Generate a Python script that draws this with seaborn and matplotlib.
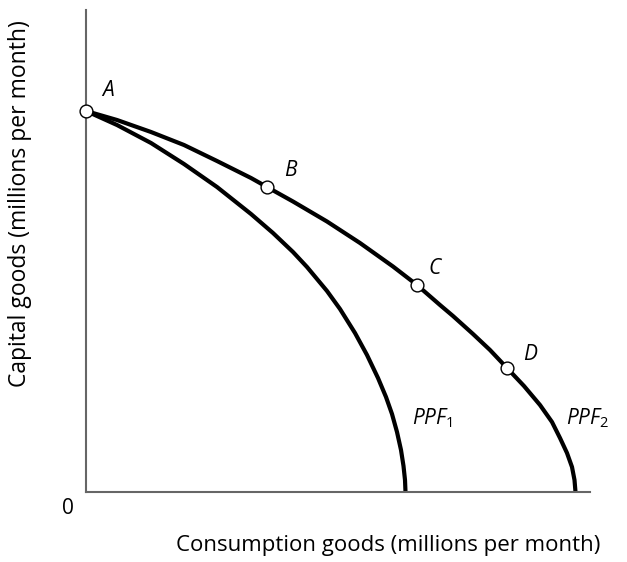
import matplotlib
matplotlib.use("Agg")
import matplotlib.pyplot as plt
import seaborn as sns
import pandas as pd

# Consumption goods (x) and capital goods (y), arbitrary units
ppf1_x = [0.00, 0.62, 1.30, 1.96, 2.62, 3.30, 3.74, 4.14, 4.42, 4.82, 5.08, 5.38,
          5.62, 5.84, 6.00, 6.12, 6.22, 6.30, 6.35, 6.38, 6.39]
ppf1_y = [7.62, 7.34, 6.98, 6.56, 6.10, 5.56, 5.18, 4.80, 4.50, 4.02, 3.66, 3.18,
          2.74, 2.28, 1.90, 1.56, 1.20, 0.84, 0.52, 0.24, 0.00]

ppf2_x = [0.00, 0.62, 1.30, 1.96, 2.62, 3.30, 3.62, 4.14, 4.82, 5.48, 6.14, 6.62,
          7.08, 7.34, 7.74, 8.08, 8.42, 8.76, 9.08, 9.32, 9.48, 9.62, 9.72, 9.77, 9.79]
ppf2_y = [7.62, 7.44, 7.20, 6.94, 6.62, 6.28, 6.10, 5.81, 5.41, 4.98, 4.51, 4.14,
          3.74, 3.52, 3.16, 2.84, 2.48, 2.12, 1.74, 1.40, 1.08, 0.78, 0.50, 0.24, 0.00]

point_labels = ["A", "B", "C", "D"]
point_x = [0.00, 3.62, 6.62, 8.42]
point_y = [7.62, 6.10, 4.14, 2.48]

curve_labels = [r"PPF$_\mathrm{1}$", r"PPF$_\mathrm{2}$"]
x_label = "Consumption goods (millions per month)"
y_label = "Capital goods (millions per month)"

sns.set_theme(style="white")
plt.rcParams['font.family'] = ['Open Sans', 'DejaVu Sans']
plt.rcParams['text.color'] = 'black'
plt.rcParams['mathtext.fontset'] = 'custom'
plt.rcParams['mathtext.rm'] = 'Open Sans'
plt.rcParams['mathtext.it'] = 'Open Sans:italic'

fig = plt.figure(figsize=(6.27, 5.62), dpi=100)
ax = fig.add_axes([86/627, 70/562, 504/627, 482/562])

df1 = pd.DataFrame({"x": ppf1_x, "y": ppf1_y})
df2 = pd.DataFrame({"x": ppf2_x, "y": ppf2_y})
for d in (df1, df2):
    sns.lineplot(data=d, x="x", y="y", sort=False, estimator=None, ax=ax,
                 color="black", linewidth=3.0, solid_joinstyle="round",
                 solid_capstyle="butt")

pts = pd.DataFrame({"x": point_x, "y": point_y})
sns.scatterplot(data=pts, x="x", y="y", ax=ax, s=85, color="white",
                edgecolor="black", linewidth=1.0, zorder=5, clip_on=False)

offsets = [(0.44, 0.42), (0.46, 0.34), (0.36, 0.34), (0.46, 0.26)]
for lab, px, py, (dx, dy) in zip(point_labels, point_x, point_y, offsets):
    ax.text(px + dx, py + dy, lab, fontsize=15, style="italic", ha="center",
            va="center", color="black")

ax.text(6.52, 1.48, curve_labels[0], fontsize=15, style="italic", ha="left",
        va="center", color="black")
ax.text(9.60, 1.48, curve_labels[1], fontsize=15, style="italic", ha="left",
        va="center", color="black")

ax.set_xlim(0, 10.08)
ax.set_ylim(0, 9.64)
ax.set_xticks([])
ax.set_yticks([])
ax.set_xlabel("")
ax.set_ylabel("")
for s in ["top", "right"]:
    ax.spines[s].set_visible(False)
for s in ["left", "bottom"]:
    ax.spines[s].set_color("#666666")
    ax.spines[s].set_linewidth(1.5)

fig.text(68/627, 1 - 508/562, "0", fontsize=15, ha="center", va="center", color="black")
fig.text(388/627, 1 - 546/562, x_label, fontsize=16, ha="center", va="center", color="black")
fig.text(20/627, 1 - 204/562, y_label, fontsize=16.5, ha="center", va="center",
         rotation=90, color="black")

fig.savefig("out.png", dpi=100)
